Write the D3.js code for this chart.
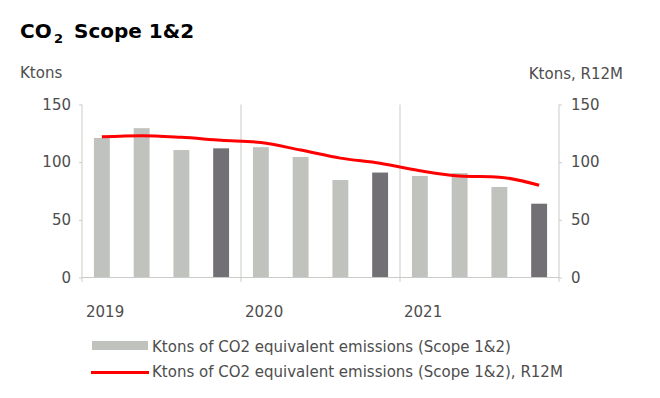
<!DOCTYPE html>
<html>
<head>
<meta charset="utf-8">
<script src="https://cdn.jsdelivr.net/npm/d3@7"></script>
<style>
  body { margin: 0; background: #fff; }
  text { font-family: "DejaVu Sans", sans-serif; }
</style>
</head>
<body>
<script>
// data
const years = ["2019", "2020", "2021"];
const quarters = ["Q1 2019", "Q2 2019", "Q3 2019", "Q4 2019",
                  "Q1 2020", "Q2 2020", "Q3 2020", "Q4 2020",
                  "Q1 2021", "Q2 2021", "Q3 2021", "Q4 2021"];
const emissions = [121, 129.5, 110.5, 112, 113, 104.5, 84.5, 91, 88, 90.5, 78.5, 64];
const r12m = [122, 123, 121.5, 119, 117, 110.5, 103.5, 99, 92.5, 88, 87, 80];
const yTicks = [0, 50, 100, 150];
const legendLabels = ["Ktons of CO2 equivalent emissions (Scope 1&2)",
                      "Ktons of CO2 equivalent emissions (Scope 1&2), R12M"];

const W = 660, H = 398;
const plotL = 82, plotR = 559, plotT = 104.5, base = 277.5;
const gridColor = "#c9ccc9";
const textColor = "#4d4d4d";
const lightBar = "#c0c3bd";
const darkBar = "#727075";

const svg = d3.select("body").append("svg").attr("width", W).attr("height", H);

const x = d3.scaleBand().domain(quarters).range([plotL, plotR])
  .paddingInner(0.6).paddingOuter(0.3);
const y = d3.scaleLinear().domain([0, 150]).range([base, plotT]);
const yr = d3.scaleLinear().domain([0, 150]).range([base, plotT]);
const xYear = d3.scalePoint().domain(d3.range(years.length + 1)).range([plotL, plotR]);

// year separators
svg.append("g").selectAll("line").data(d3.range(1, years.length)).join("line")
  .attr("x1", d => xYear(d)).attr("x2", d => xYear(d))
  .attr("y1", plotT).attr("y2", base + 4.5)
  .attr("stroke", gridColor);

// bars, last quarter of each year darker
svg.append("g").selectAll("rect").data(emissions).join("rect")
  .attr("x", (d, i) => x(quarters[i]))
  .attr("width", x.bandwidth())
  .attr("y", d => y(d))
  .attr("height", d => base - y(d))
  .attr("fill", (d, i) => i % 4 === 3 ? darkBar : lightBar);

// baseline
svg.append("line").attr("x1", plotL).attr("x2", plotR)
  .attr("y1", base).attr("y2", base).attr("stroke", gridColor);

// left axis
const la = svg.append("g").attr("transform", `translate(${plotL},0)`)
  .call(d3.axisLeft(y).tickValues(yTicks).tickSize(3).tickPadding(8));
la.select(".domain").remove();
la.selectAll(".tick line").attr("stroke", gridColor);
la.selectAll("text").attr("fill", textColor).style("font-size", "15px")
  .attr("font-family", "DejaVu Sans");
svg.append("line").attr("x1", plotL).attr("x2", plotL)
  .attr("y1", plotT).attr("y2", base + 4.5).attr("stroke", gridColor);

// right axis
const ra = svg.append("g").attr("transform", `translate(${plotR},0)`)
  .call(d3.axisRight(yr).tickValues(yTicks).tickSize(3).tickPadding(9));
ra.select(".domain").remove();
ra.selectAll(".tick line").attr("stroke", gridColor);
ra.selectAll("text").attr("fill", textColor).style("font-size", "15px")
  .attr("font-family", "DejaVu Sans");
svg.append("line").attr("x1", plotR).attr("x2", plotR)
  .attr("y1", plotT).attr("y2", base + 4.5).attr("stroke", gridColor);

// year labels
svg.append("g").selectAll("text").data(years).join("text")
  .attr("x", (d, i) => xYear(i) + 4).attr("y", 317)
  .attr("fill", textColor).style("font-size", "15px")
  .text(d => d);

// R12M line
const line = d3.line()
  .x((d, i) => x(quarters[i]) + x.bandwidth() / 2)
  .y(d => yr(d))
  .curve(d3.curveMonotoneX);
svg.append("path").datum(r12m)
  .attr("d", line).attr("fill", "none")
  .attr("stroke", "#ff0000").attr("stroke-width", 3);

// title
const title = svg.append("text").attr("x", 20).attr("y", 38)
  .style("font-size", "20px").style("font-weight", "bold").attr("fill", "#000");
title.append("tspan").text("CO");
title.append("tspan").attr("x", 54).attr("dy", 5).style("font-size", "13px").text("2");
svg.append("text").attr("x", 74).attr("y", 38)
  .style("font-size", "20px").style("font-weight", "bold").attr("fill", "#000")
  .text("Scope 1&2");

// axis titles
svg.append("text").attr("x", 20).attr("y", 78)
  .attr("fill", textColor).style("font-size", "15px").text("Ktons");
svg.append("text").attr("x", 623).attr("y", 79).attr("text-anchor", "end")
  .attr("fill", textColor).style("font-size", "15px").text("Ktons, R12M");

// legend
const lg = svg.append("g");
lg.append("rect").attr("x", 92).attr("y", 341).attr("width", 56).attr("height", 9)
  .attr("fill", lightBar);
lg.append("line").attr("x1", 91).attr("x2", 149).attr("y1", 372.5).attr("y2", 372.5)
  .attr("stroke", "#ff0000").attr("stroke-width", 3);
lg.selectAll("text").data(legendLabels).join("text")
  .attr("x", 152).attr("y", (d, i) => 352 + i * 25)
  .attr("fill", textColor).style("font-size", "15px")
  .text(d => d);
</script>
</body>
</html>
